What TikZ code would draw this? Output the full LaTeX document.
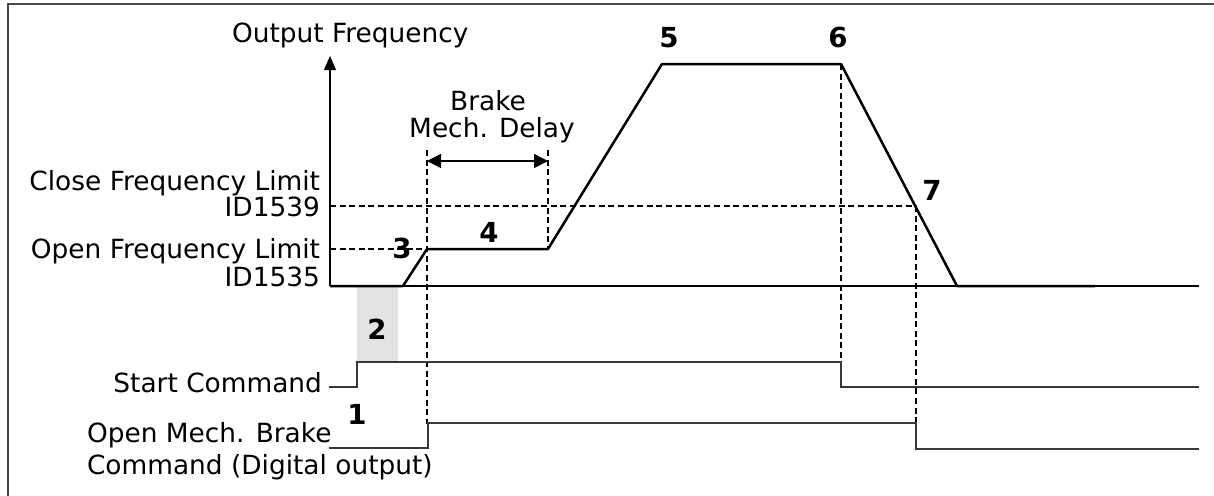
\documentclass[tikz,border=0pt]{standalone}
\usepackage{fontspec}
\setmainfont{DejaVu Sans}
\usetikzlibrary{arrows.meta}
\definecolor{BrakeInk}{gray}{0.0}
\definecolor{BrakeSignal}{gray}{0.22}
\definecolor{BrakeFrame}{gray}{0.28}
\definecolor{BrakeShade}{gray}{0.89}
\tikzset{
    brake/diagram/.style={
        font=\fontsize{13.2}{13}\selectfont,
        text=BrakeInk,
        line cap=butt,
        line join=miter,
        every node/.style={inner sep=0pt, outer sep=0pt}
    },
    brake/frame/.style={draw=BrakeFrame, line width=1.1pt},
    brake/axis/.style={
        draw=BrakeInk, line width=0.6pt,
        -{Triangle[length=7pt, width=6pt]}
    },
    brake/base/.style={draw=BrakeInk, line width=0.8pt},
    brake/curve/.style={draw=BrakeInk, line width=1.25pt, line join=round},
    brake/signal/.style={draw=BrakeSignal, line width=0.6pt},
    brake/guide/.style={
        draw=BrakeInk, line width=0.6pt,
        dash pattern=on 3pt off 1.8pt
    },
    brake/span/.style={
        draw=BrakeInk, line width=0.8pt,
        {Triangle[length=7pt, width=7pt]}-{Triangle[length=7pt, width=7pt]}
    },
    brake/shade/.style={fill=BrakeShade, draw=none},
    brake/rlabel/.style={anchor=base east},
    brake/llabel/.style={anchor=base west},
    brake/marker/.style={anchor=base, font=\fontsize{13.8}{13}\selectfont\bfseries}
}

\begin{document}
\begin{tikzpicture}[brake/diagram, x=0.5pt, y=-0.5pt]
    \useasboundingbox (0,0) rectangle (1214,495);
    \clip (0,0) rectangle (1214,495);
    \draw[brake/frame] (8,4) rectangle (1240,520);
    % start-up shading
    \fill[brake/shade] (357,287) rectangle (398,361);
    % guide lines
    \draw[brake/guide] (330,206) -- (916,206);
    \draw[brake/guide] (330,249) -- (427,249);
    \draw[brake/guide] (427,150) -- (427,424);
    \draw[brake/guide] (548,150) -- (548,249);
    \draw[brake/guide] (841,64) -- (841,362);
    \draw[brake/guide] (916,206) -- (916,423);
    % frequency axis and profile
    \draw[brake/axis] (330,286) -- (330,56);
    \draw[brake/base] (330,286) -- (1199,286);
    \draw[brake/curve]
        (330,286) -- (403,286) -- (427,249) -- (548,249)
        -- (662,64) -- (841,64) -- (957,286) -- (1095,286);
    \coordinate (delayL) at (427,161);
    \coordinate (delayR) at (548,161);
    \draw[brake/span] (delayL) -- (delayR);
    % command signals
    \draw[brake/signal]
        (329,387) -- (357,387) -- (357,362) -- (841,362)
        -- (841,387) -- (1199,387);
    \draw[brake/signal]
        (329,448) -- (428,448) -- (428,423) -- (916,423)
        -- (916,449) -- (1199,449);
    % labels
    \node[brake/llabel] (freqLabel) at (232,42) {Output Frequency};
    \node[anchor=base] (delayTop) at (488,110) {Brake};
    \node[anchor=base] (delayBot) at (492,137) {Mech. Delay};
    \node[brake/rlabel] (closeLimit) at (320,190) {Close Frequency Limit};
    \node[brake/rlabel] (closeId) at (320,216) {ID1539};
    \node[brake/rlabel] (openLimit) at (320,258) {Open Frequency Limit};
    \node[brake/rlabel] (openId) at (320,286) {ID1535};
    \node[brake/rlabel] (startCmd) at (322,392) {Start Command};
    \node[brake/llabel] (brakeCmdA) at (87,442) {Open Mech. Brake};
    \node[brake/llabel] (brakeCmdB) at (87,474) {Command (Digital output)};
    \foreach \x/\y/\n in {357/424/1,377/339/2,402/258/3,489/242/4,
                          669/47/5,838/47/6,932/200/7} {
        \node[brake/marker] (mark\n) at (\x,\y) {\n};
    }
\end{tikzpicture}
\end{document}
